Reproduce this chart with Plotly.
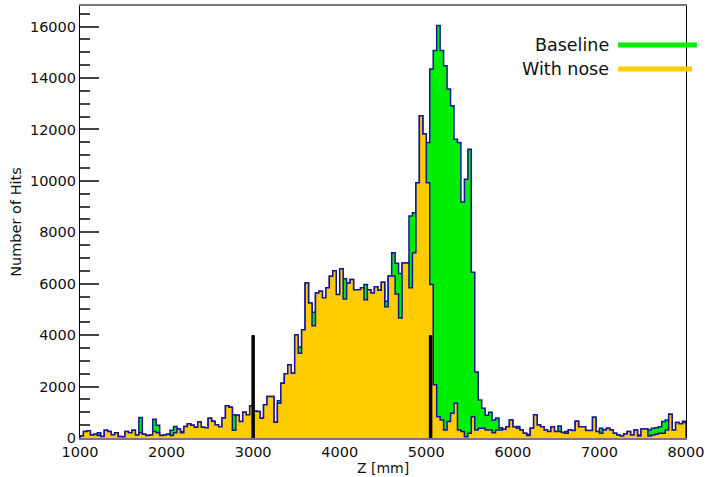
import numpy as np
import plotly.graph_objects as go

# ---- data -------------------------------------------------------------
x_min = 1000
x_max = 8000
n_bins = 175  # 40 mm bins

baseline = [
    80, 250, 280, 120, 150, 200, 60, 300, 250, 130,
    200, 60, 50, 250, 200, 300, 120, 800, 150, 100,
    120, 730, 500, 100, 120, 150, 300, 450, 350, 250,
    450, 550, 500, 420, 620, 420, 400, 770, 650, 520,
    440, 780, 1250, 1200, 900, 880, 640, 1000, 900, 1250,
    1050, 1030, 770, 1290, 1610, 1610, 610, 1450, 2130, 2500,
    2850, 2520, 4020, 3540, 4210, 6030, 5250, 4890, 5640, 5710,
    5450, 5840, 6290, 6500, 5580, 6580, 6190, 6030, 6160, 5770,
    5770, 5840, 5970, 5770, 5640, 5880, 5750, 6060, 5320, 6300,
    7200, 6800, 6400, 6810, 6810, 8630, 8760, 9930, 12530, 11820,
    11490, 14350, 15070, 16040, 15070, 14480, 13570, 12920, 11620, 11490,
    9180, 10060, 11230, 6450, 2570, 1480, 1160, 880, 1000, 700,
    780, 400, 340, 440, 700, 440, 450, 310, 180, 140,
    380, 900, 510, 440, 310, 250, 440, 250, 470, 210,
    250, 310, 290, 650, 440, 440, 290, 290, 810, 250,
    380, 310, 380, 310, 180, 120, 80, 160, 250, 120,
    310, 120, 350, 350, 310, 380, 400, 440, 640, 700,
    920, 310, 600, 550, 650,
]

with_nose = [
    80, 250, 280, 120, 150, 100, 60, 300, 250, 130,
    200, 60, 50, 250, 200, 300, 120, 200, 150, 100,
    120, 250, 200, 100, 120, 150, 100, 200, 350, 200,
    450, 550, 500, 420, 620, 420, 400, 770, 650, 520,
    440, 780, 1250, 1200, 300, 880, 640, 1000, 900, 1250,
    1050, 1030, 770, 1290, 1610, 1610, 610, 1350, 2130, 2500,
    2850, 2520, 4020, 3300, 4210, 6030, 5250, 4370, 5640, 5710,
    5450, 5840, 6290, 6500, 5580, 6580, 5410, 6030, 6160, 5770,
    5770, 5840, 5380, 5770, 5640, 5880, 5750, 6060, 5100, 6300,
    6300, 5600, 4670, 6810, 6810, 5840, 7200, 9930, 12530, 11820,
    9930, 5970, 2070, 830, 700, 310, 640, 960, 1350, 310,
    250, 50, 180, 830, 310, 380, 380, 310, 310, 200,
    310, 310, 340, 440, 700, 440, 380, 310, 180, 100,
    380, 900, 510, 440, 310, 250, 440, 250, 250, 210,
    180, 310, 290, 650, 440, 440, 290, 290, 810, 250,
    180, 310, 380, 310, 180, 120, 80, 160, 250, 120,
    310, 80, 350, 350, 80, 120, 150, 180, 180, 310,
    920, 310, 600, 550, 600,
]

cut_positions = [3000, 5050]
cut_heights = [4000, 4000]

series_names = ["Baseline", "With nose"]
series_colors = ["#00ee00", "#ffcc00"]

x_ticks = [1000, 2000, 3000, 4000, 5000, 6000, 7000, 8000]
y_ticks = [0, 2000, 4000, 6000, 8000, 10000, 12000, 14000, 16000]

# ---- figure -----------------------------------------------------------
edges = np.linspace(x_min, x_max, n_bins + 1)


def step_xy(vals):
    xs = [edges[0]] + list(edges[:-1]) + [edges[-1], edges[-1]]
    ys = [0] + list(vals) + [vals[-1], 0]
    return xs, ys


fig = go.Figure()
for name, vals, col in zip(series_names, [baseline, with_nose], series_colors):
    xs, ys = step_xy(vals)
    fig.add_trace(go.Scatter(
        x=xs, y=ys, mode="lines", line_shape="hv", name=name,
        line=dict(color="#1414a0", width=1.5),
        fill="tozeroy", fillcolor=col, showlegend=False,
        hoverinfo="skip",
    ))

for xc, hc in zip(cut_positions, cut_heights):
    fig.add_trace(go.Scatter(
        x=[xc, xc], y=[0, hc], mode="lines",
        line=dict(color="black", width=3.5), showlegend=False,
        hoverinfo="skip",
    ))

font = "DejaVu Sans, Verdana, sans-serif"

fig.update_layout(
    width=707, height=477,
    margin=dict(l=80, r=21, t=6, b=39),
    paper_bgcolor="white", plot_bgcolor="white",
    font=dict(family=font, color="#111"),
)
fig.update_xaxes(
    range=[x_min, x_max], tickvals=x_ticks,
    ticktext=[str(v) for v in x_ticks],
    showgrid=False, zeroline=False, ticks="",
    showline=True, linecolor="#777", linewidth=2, mirror=True,
    tickfont=dict(size=14.5, color="#111"),
    title=dict(text="Z [mm]", font=dict(size=14, color="#111"), standoff=2),
    automargin=False,
)
fig.update_yaxes(
    range=[0, 16800], tickvals=y_ticks,
    ticktext=[str(v) for v in y_ticks],
    showgrid=False, zeroline=False,
    ticks="inside", ticklen=19, tickwidth=1.5, tickcolor="#444",
    minor=dict(ticks="inside", ticklen=10, dtick=500, tickwidth=1.5,
               tickcolor="#444", showgrid=False),
    showline=True, linecolor="black", linewidth=1.1, mirror=True,
    tickfont=dict(size=14.5, color="#111"),
    title=dict(text="Number of Hits", font=dict(size=14.5, color="#111"), standoff=4),
    automargin=False,
)

# legend (text on the left, coloured line on the right)
legend_y = [0.910, 0.854]
legend_x1 = [1.018, 1.010]
for name, col, yy, x1 in zip(series_names, series_colors, legend_y, legend_x1):
    fig.add_annotation(
        x=0.876, y=yy, xref="paper", yref="paper", text=name,
        showarrow=False, xanchor="right", yanchor="middle",
        font=dict(family=font, size=17.5, color="#111"),
    )
    fig.add_shape(
        type="line", xref="paper", yref="paper",
        x0=0.888, x1=x1, y0=yy, y1=yy,
        line=dict(color=col, width=5),
    )

fig.write_html(
    "out.html",
    config={"displayModeBar": False},
    post_script="document.body.style.margin='0';document.body.style.padding='0';",
)
